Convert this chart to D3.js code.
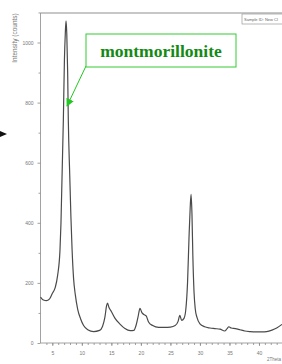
<!DOCTYPE html>
<html>
<head>
  <meta charset="utf-8">
  <title>XRD montmorillonite</title>
  <style>
    body { margin: 0; background: #fff; }
    svg { display: block; font-family: "Liberation Sans", sans-serif; }
    .axis path, .axis line { stroke: #8a8a8a; }
    .axis text { fill: #777; font-size: 5px; }
  </style>
</head>
<body>
  <svg width="282" height="364"></svg>

  <script src="https://d3js.org/d3.v7.min.js"></script>
  <script>
    // diffraction pattern: 2theta (deg) and counts
    var twoTheta = [3.0, 3.5, 4.0, 4.5, 5.0, 5.5, 5.9, 6.3, 6.47, 6.87, 7.05, 7.2, 7.32, 7.45, 7.6, 7.71,
      7.95, 8.15, 8.35, 8.6, 8.9, 9.3, 9.8, 10.3, 11.0, 12.0, 13.0, 13.5, 13.9, 14.2, 14.35, 14.6,
      15.0, 15.6, 16.5, 17.3, 18.2, 18.8, 19.2, 19.5, 19.85, 20.2, 20.5, 20.9, 21.3, 22.0, 23.0,
      24.0, 25.0, 25.8, 26.3, 26.6, 26.9, 27.3, 27.6, 27.9, 28.15, 28.35, 28.5, 28.65, 28.8, 29.0,
      29.2, 29.5, 30.0, 30.8, 31.7, 32.5, 33.4, 34.2, 34.6, 34.9, 35.3, 36.0, 36.8, 37.6, 38.5,
      39.5, 40.5, 41.3, 42.2, 43.0, 43.9];
    var intensity = [153, 143, 141, 146, 165, 185, 225, 309, 400, 742, 940, 1030, 1072, 1030, 900, 742,
      560, 420, 310, 215, 160, 112, 80, 58, 44, 38, 42, 55, 85, 125, 133, 118,
      105, 83, 62, 48, 41, 42, 60, 85, 115, 100, 95, 90, 70, 58, 52,
      52, 53, 58, 72, 92, 75, 82, 110, 200, 350, 450, 495, 430, 290, 170,
      115, 85, 64, 54, 50, 48, 46, 40, 48, 54, 50, 48, 44, 40, 38,
      37, 37, 38, 43, 50, 62];
    var xTicks = [5, 10, 15, 20, 25, 30, 35, 40];
    var yTicks = [0, 200, 400, 600, 800, 1000];
    var annotation = "montmorillonite";

    var svg = d3.select('svg');

    var x = d3.scaleLinear().domain([3, 44]).range([40.5, 282.6]);
    var y = d3.scaleLinear().domain([0, 1000]).range([343, 42.5]);

    // top frame line
    svg.append('line')
      .attr('x1', x(3)).attr('x2', 282)
      .attr('y1', 13).attr('y2', 13)
      .attr('stroke', '#b5b5b5').attr('stroke-width', 1.5);

    // minor ticks first
    svg.append('g').attr('class', 'axis')
      .attr('transform', 'translate(0,' + y(0) + ')')
      .call(d3.axisBottom(x).tickValues(d3.range(4, 44, 1)).tickSize(2).tickFormat(''))
      .select('.domain').remove();
    svg.append('g').attr('class', 'axis')
      .attr('transform', 'translate(' + x(3) + ',0)')
      .call(d3.axisLeft(y).tickValues([100, 300, 500, 700, 900, 1100]).tickSize(2).tickFormat(''))
      .select('.domain').remove();

    var xAxis = svg.append('g').attr('class', 'axis')
      .attr('transform', 'translate(0,' + y(0) + ')')
      .call(d3.axisBottom(x).tickValues(xTicks).tickSize(3).tickPadding(5).tickSizeOuter(0));
    xAxis.select('.domain').attr('d', 'M' + x(3) + ',0H282');

    var yAxis = svg.append('g').attr('class', 'axis')
      .attr('transform', 'translate(' + x(3) + ',0)')
      .call(d3.axisLeft(y).tickValues(yTicks).tickSize(3).tickPadding(4).tickSizeOuter(0)
        .tickFormat(d3.format('d')));
    yAxis.select('.domain').attr('d', 'M0,13V' + y(0));

    svg.selectAll('.axis line, .axis path').attr('stroke-width', 0.8);

    // axis titles
    svg.append('text')
      .attr('transform', 'translate(17,38) rotate(-90)')
      .attr('text-anchor', 'middle')
      .attr('fill', '#777')
      .attr('font-size', 6.5)
      .text('Intensity (counts)');
    svg.append('text')
      .attr('x', 267).attr('y', 361)
      .attr('fill', '#777')
      .attr('font-size', 4.5)
      .text('2Theta');

    // sample id box
    svg.append('rect')
      .attr('x', 242).attr('y', 14).attr('width', 50).attr('height', 10)
      .attr('fill', '#fff').attr('stroke', '#999').attr('stroke-width', 0.7);
    svg.append('text')
      .attr('x', 244).attr('y', 20.5)
      .attr('fill', '#666').attr('font-size', 4)
      .text('Sample ID: New Cl');

    // pattern
    var line = d3.line()
      .x(function(d) { return x(d[0]); })
      .y(function(d) { return y(d[1]); })
      .curve(d3.curveMonotoneX);

    svg.append('path')
      .datum(d3.zip(twoTheta, intensity))
      .attr('d', line)
      .attr('fill', 'none')
      .attr('stroke', '#4a4a4a')
      .attr('stroke-width', 1.2)
      .attr('stroke-linejoin', 'round');

    // green label with arrow
    var defs = svg.append('defs');
    defs.append('marker')
      .attr('id', 'gh')
      .attr('viewBox', '0 0 10 10')
      .attr('refX', 9).attr('refY', 5)
      .attr('markerWidth', 8).attr('markerHeight', 8)
      .attr('markerUnits', 'userSpaceOnUse')
      .attr('orient', 'auto')
      .append('path')
      .attr('d', 'M0,0L10,5L0,10Z')
      .attr('fill', '#22c722');

    svg.append('line')
      .attr('x1', 86).attr('y1', 66)
      .attr('x2', 67).attr('y2', 106)
      .attr('stroke', '#22c722').attr('stroke-width', 1)
      .attr('marker-end', 'url(#gh)');

    svg.append('rect')
      .attr('x', 86).attr('y', 34).attr('width', 150).attr('height', 33)
      .attr('fill', '#fff').attr('stroke', '#33cc33').attr('stroke-width', 1);
    svg.append('text')
      .attr('x', 161).attr('y', 56.5)
      .attr('text-anchor', 'middle')
      .attr('font-family', '"Liberation Serif", serif')
      .attr('font-weight', 'bold')
      .attr('font-size', 17.5)
      .attr('fill', '#138a13')
      .text(annotation);

    // small black pointer on the left edge
    svg.append('path')
      .attr('d', 'M0,131L7,134L0,137Z')
      .attr('fill', '#111');
  </script>
</body>
</html>
